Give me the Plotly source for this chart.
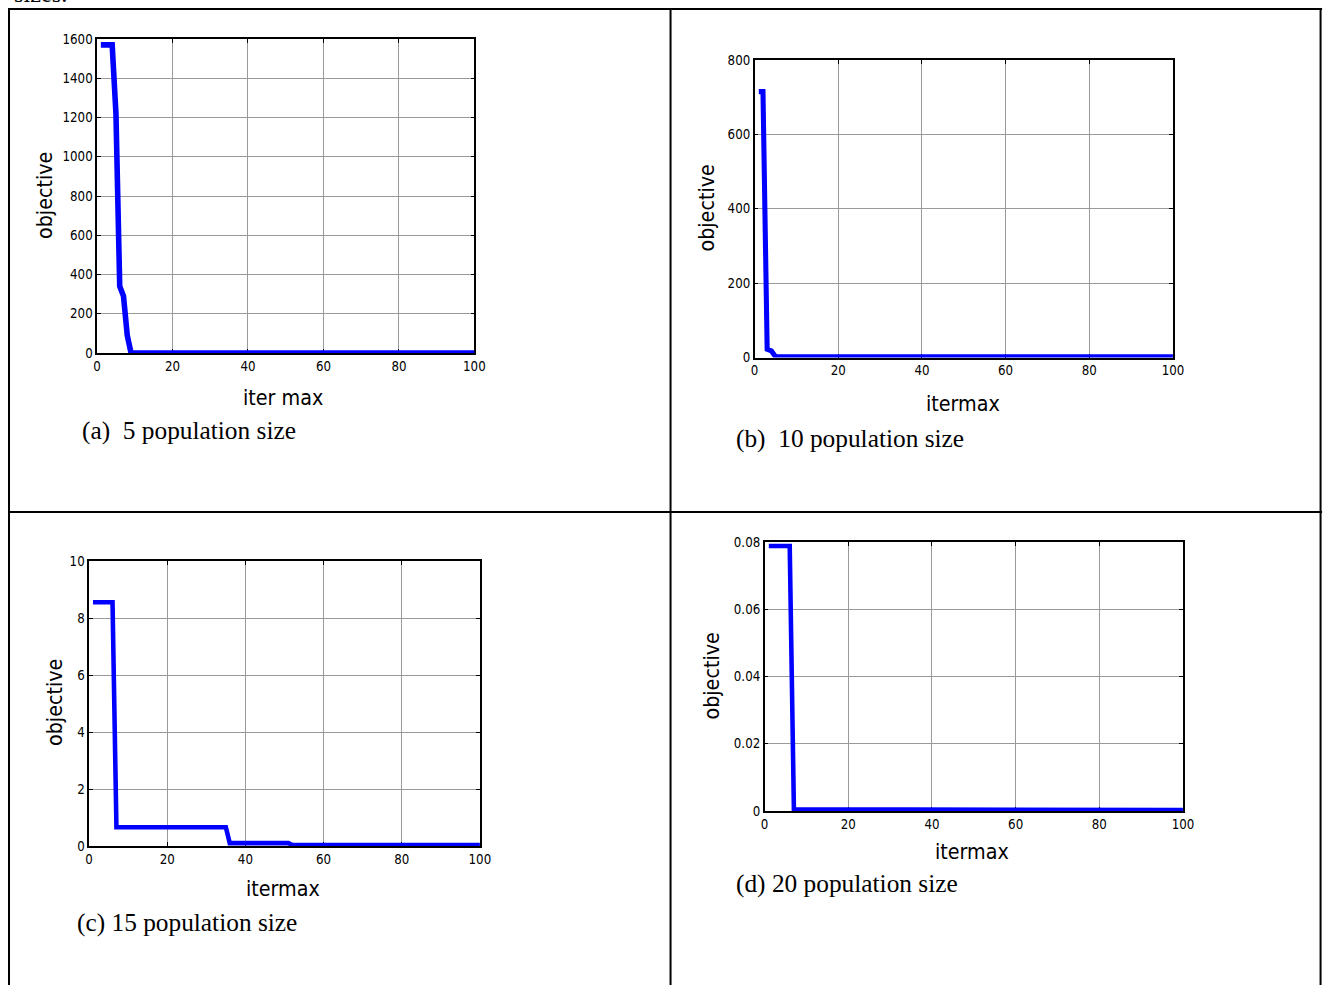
import plotly.graph_objects as go

# ---------------- data ----------------
iter_a = [1, 4, 5, 6, 7, 8, 9, 100]
obj_a = [1570, 1570, 1220, 340, 290, 90, 0, 0]

iter_b = [1, 2, 3, 4, 5, 100]
obj_b = [715, 715, 22, 18, 2, 2]

iter_c = [1, 6, 7, 35, 36, 51, 52, 100]
obj_c = [8.55, 8.55, 0.66, 0.66, 0.1, 0.1, 0.03, 0.03]

iter_d = [1, 6, 7, 73, 74, 100]
obj_d = [0.0788, 0.0788, 0.0005, 0.0005, 0.0003, 0.0003]

x_ticks = [0, 20, 40, 60, 80, 100]
y_ticks_a = [0, 200, 400, 600, 800, 1000, 1200, 1400, 1600]
y_ticks_b = [0, 200, 400, 600, 800]
y_ticks_c = [0, 2, 4, 6, 8, 10]
y_ticks_d = [0, 0.02, 0.04, 0.06, 0.08]

captions = ["(a)\u00a0\u00a05 population size",
            "(b)\u00a0\u00a010 population size",
            "(c) 15 population size",
            "(d) 20 population size"]
x_titles = ["iter max", "itermax", "itermax", "itermax"]
y_title = "objective"

# ---------------- layout helpers ----------------
W, H = 1340, 1000
# measured relation between page pixels and photographed pixels:
# picture = scale * page + offset
KX, BX, KY, BY = 0.988, 4.0, 0.985, 7.0
FS = 1 / 0.986   # size compensation


def px(x):
    """picture x pixel -> paper fraction"""
    return ((x - BX) / KX) / W


def py(y):
    """picture y pixel -> paper fraction"""
    return 1 - ((y - BY) / KY) / H


NARROW = "DejaVu Sans Condensed, Liberation Sans Narrow, Roboto, sans-serif"
SERIF = "Liberation Serif, Times New Roman, serif"

panels = [
    # (xdata, ydata, yticks, plot box [x0, x1, ytop, ybottom], line width)
    (iter_a, obj_a, y_ticks_a, [97, 474, 39, 353], 5.5),
    (iter_b, obj_b, y_ticks_b, [754, 1172, 60, 357.5], 5),
    (iter_c, obj_c, y_ticks_c, [89, 479.5, 561, 846], 4.5),
    (iter_d, obj_d, y_ticks_d, [764, 1182, 542, 811], 4.5),
]
ytitle_pos = [(44, 196), (705, 208), (54, 703), (710, 676)]
xtitle_pos = [(283, 397), (962, 403), (283, 888), (971, 851)]
caption_pos = [(80, 430), (733, 438), (75, 922), (733, 883)]

fig = go.Figure()
layout = dict(
    width=W, height=H,
    margin=dict(l=0, r=0, t=0, b=0),
    paper_bgcolor="white", plot_bgcolor="white",
    showlegend=False,
)

annotations = []
for i, (xs, ys, yt, box, lw) in enumerate(panels):
    n = "" if i == 0 else str(i + 1)
    fig.add_trace(go.Scatter(
        x=xs, y=ys, mode="lines",
        line=dict(color="#0000FF", width=lw * FS),
        xaxis="x" + n, yaxis="y" + n, cliponaxis=False,
    ))
    x0, x1, yt0, yb0 = box
    common = dict(
        showline=True, linecolor="black", linewidth=1.5, mirror="ticks",
        ticks="inside", ticklen=4, tickcolor="black", tickwidth=1,
        showgrid=True, gridcolor="#9a9a9a", gridwidth=1,
        zeroline=False, layer="below traces",
        tickfont=dict(family=NARROW, size=13 * FS, color="black"),
    )
    layout["xaxis" + n] = dict(
        common, domain=[px(x0), px(x1)], range=[0, 100],
        tickvals=x_ticks, anchor="y" + n,
    )
    layout["yaxis" + n] = dict(
        common, domain=[py(yb0), py(yt0)], range=[yt[0], yt[-1]],
        tickvals=yt, anchor="x" + n,
    )
    tx, ty = ytitle_pos[i]
    annotations.append(dict(
        text=y_title, x=px(tx), y=py(ty), xref="paper", yref="paper",
        showarrow=False, textangle=-90, xanchor="center", yanchor="middle",
        font=dict(family=NARROW, size=21 * FS, color="black"),
    ))
    tx, ty = xtitle_pos[i]
    annotations.append(dict(
        text=x_titles[i], x=px(tx), y=py(ty), xref="paper", yref="paper",
        showarrow=False, xanchor="center", yanchor="middle",
        font=dict(family=NARROW, size=21 * FS, color="black"),
    ))
    tx, ty = caption_pos[i]
    annotations.append(dict(
        text=captions[i], x=px(tx), y=py(ty), xref="paper", yref="paper",
        showarrow=False, xanchor="left", yanchor="middle",
        font=dict(family=SERIF, size=25 * FS, color="black"),
    ))

# partly visible text at the very top of the page
annotations.append(dict(
    text="sizes.", x=px(12), y=py(9), xref="paper", yref="paper",
    showarrow=False, xanchor="left", yanchor="bottom",
    font=dict(family=SERIF, size=24 * FS, color="black"),
))

# table borders
shapes = []
for xv in [9, 670, 1319.5]:
    shapes.append(dict(type="line", xref="paper", yref="paper",
                       x0=px(xv), x1=px(xv), y0=py(9), y1=py(1000),
                       line=dict(color="black", width=2)))
for yv in [9, 512]:
    shapes.append(dict(type="line", xref="paper", yref="paper",
                       x0=px(8), x1=px(1321), y0=py(yv), y1=py(yv),
                       line=dict(color="black", width=2)))

layout["annotations"] = annotations
layout["shapes"] = shapes
fig.update_layout(**layout)

fig.write_html("out.html", config={"displayModeBar": False},
               post_script="document.body.style.margin='0';")
